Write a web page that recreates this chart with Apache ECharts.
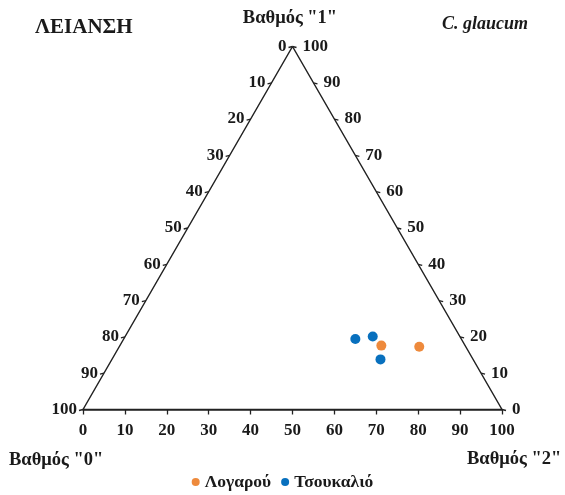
<!DOCTYPE html>
<html>
<head>
<meta charset="utf-8">
<script src="https://cdn.jsdelivr.net/npm/echarts@6/dist/echarts.min.js"></script>
<style>html,body{margin:0;padding:0;background:#fff}#c{width:565px;height:495px}</style>
</head>
<body>
<div id="c"></div>
<script>
// Ternary components: [Βαθμός "0", Βαθμός "1", Βαθμός "2"] (percent)
var seriesNames = ['Λογαρού', 'Τσουκαλιό'];
var logarouGrade0 = [20.0, 11.1];
var logarouGrade1 = [17.6, 17.3];
var logarouGrade2 = [62.4, 71.6];
var tsoukalioGrade0 = [25.3, 20.8, 22.1];
var tsoukalioGrade1 = [19.4, 20.1, 13.8];
var tsoukalioGrade2 = [55.3, 59.1, 64.1];
var tickValues = [0, 10, 20, 30, 40, 50, 60, 70, 80, 90, 100];
var cornerNames = ['Βαθμός "0"', 'Βαθμός "1"', 'Βαθμός "2"'];
var titleText = 'ΛΕΙΑΝΣΗ';
var speciesText = 'C. glaucum';

var FONT = '"Liberation Serif", "DejaVu Serif", serif';
var COL_OR = '#EE8A3C', COL_BL = '#0870BE';

function toXY(c0, c1, c2) { var s = c0 + c1 + c2; return [ (c2 + c1 / 2) * 100 / s, c1 * 100 / s ]; }
function pts(a, b, c) { return a.map(function (v, i) { return toXY(a[i], b[i], c[i]); }); }

var frame = [toXY(100,0,0), toXY(0,100,0), toXY(0,0,100), toXY(100,0,0)];
var leftTicks = tickValues.map(function (v) { var p = toXY(v, 100 - v, 0); return [p[0], p[1], v]; });
var rightTicks = tickValues.map(function (v) { var p = toXY(0, v, 100 - v); return [p[0], p[1], v]; });

function tickRenderer(side) {
  return function (params, api) {
    var p = api.coord([api.value(0), api.value(1)]);
    var label = String(api.value(2));
    var dx = side === 'left' ? -4 : 4;
    return {
      type: 'group',
      children: [
        { type: 'line', shape: { x1: p[0], y1: p[1], x2: p[0] + dx, y2: p[1] + 1 },
          style: { stroke: '#222', lineWidth: 1.3 } },
        { type: 'text', x: side === 'left' ? p[0] - 6 : p[0] + 10, y: p[1],
          style: { text: label, fill: '#1a1a1a', font: 'bold 17px ' + FONT,
                   align: side === 'left' ? 'right' : 'left', verticalAlign: 'middle' } }
      ]
    };
  };
}

var chart = echarts.init(document.getElementById('c'));
chart.setOption({
  backgroundColor: '#fff',
  animation: false,
  title: [
    { text: titleText, left: 30, top: 12, textStyle: { fontFamily: FONT, fontWeight: 'bold', fontSize: 21, color: '#1a1a1a' } },
    { text: cornerNames[1], left: 285, textAlign: 'center', top: 4, textStyle: { fontFamily: FONT, fontWeight: 'bold', fontSize: 18.5, color: '#1a1a1a' } },
    { text: speciesText, left: 437, top: 10, textStyle: { fontFamily: FONT, fontWeight: 'bold', fontStyle: 'italic', fontSize: 18, color: '#1a1a1a' } },
    { text: cornerNames[0], left: 4, top: 446, textStyle: { fontFamily: FONT, fontWeight: 'bold', fontSize: 18.5, color: '#1a1a1a' } },
    { text: cornerNames[2], left: 462, top: 445, textStyle: { fontFamily: FONT, fontWeight: 'bold', fontSize: 18.5, color: '#1a1a1a' } }
  ],
  legend: {
    data: seriesNames, left: 'center', top: 468, icon: 'circle', itemWidth: 8, itemHeight: 8, itemGap: 10,
    textStyle: { fontFamily: FONT, fontWeight: 'bold', fontSize: 17.5, color: '#1a1a1a' }
  },
  grid: { left: 83, right: 63, top: 46.5, bottom: 85.5 },
  xAxis: {
    type: 'value', min: 0, max: 100, interval: 10,
    axisLine: { show: true, lineStyle: { color: '#222', width: 1.5 } },
    axisTick: { show: true, length: 5, lineStyle: { color: '#222', width: 1.3 } },
    axisLabel: { fontFamily: FONT, fontWeight: 'bold', fontSize: 17, color: '#1a1a1a', margin: 13 },
    splitLine: { show: false }
  },
  yAxis: { type: 'value', min: 0, max: 100, show: false, splitLine: { show: false } },
  series: [
    { type: 'line', data: frame, symbol: 'none', silent: true, lineStyle: { color: '#222', width: 1.5 }, z: 1 },
    { type: 'custom', data: leftTicks, renderItem: tickRenderer('left'), silent: true, z: 2 },
    { type: 'custom', data: rightTicks, renderItem: tickRenderer('right'), silent: true, z: 2 },
    { name: seriesNames[0], type: 'scatter', data: pts(logarouGrade0, logarouGrade1, logarouGrade2), symbolSize: 10, itemStyle: { color: COL_OR, opacity: 1 }, z: 5 },
    { name: seriesNames[1], type: 'scatter', data: pts(tsoukalioGrade0, tsoukalioGrade1, tsoukalioGrade2), symbolSize: 10, itemStyle: { color: COL_BL, opacity: 1 }, z: 5 }
  ]
});
</script>
</body>
</html>
